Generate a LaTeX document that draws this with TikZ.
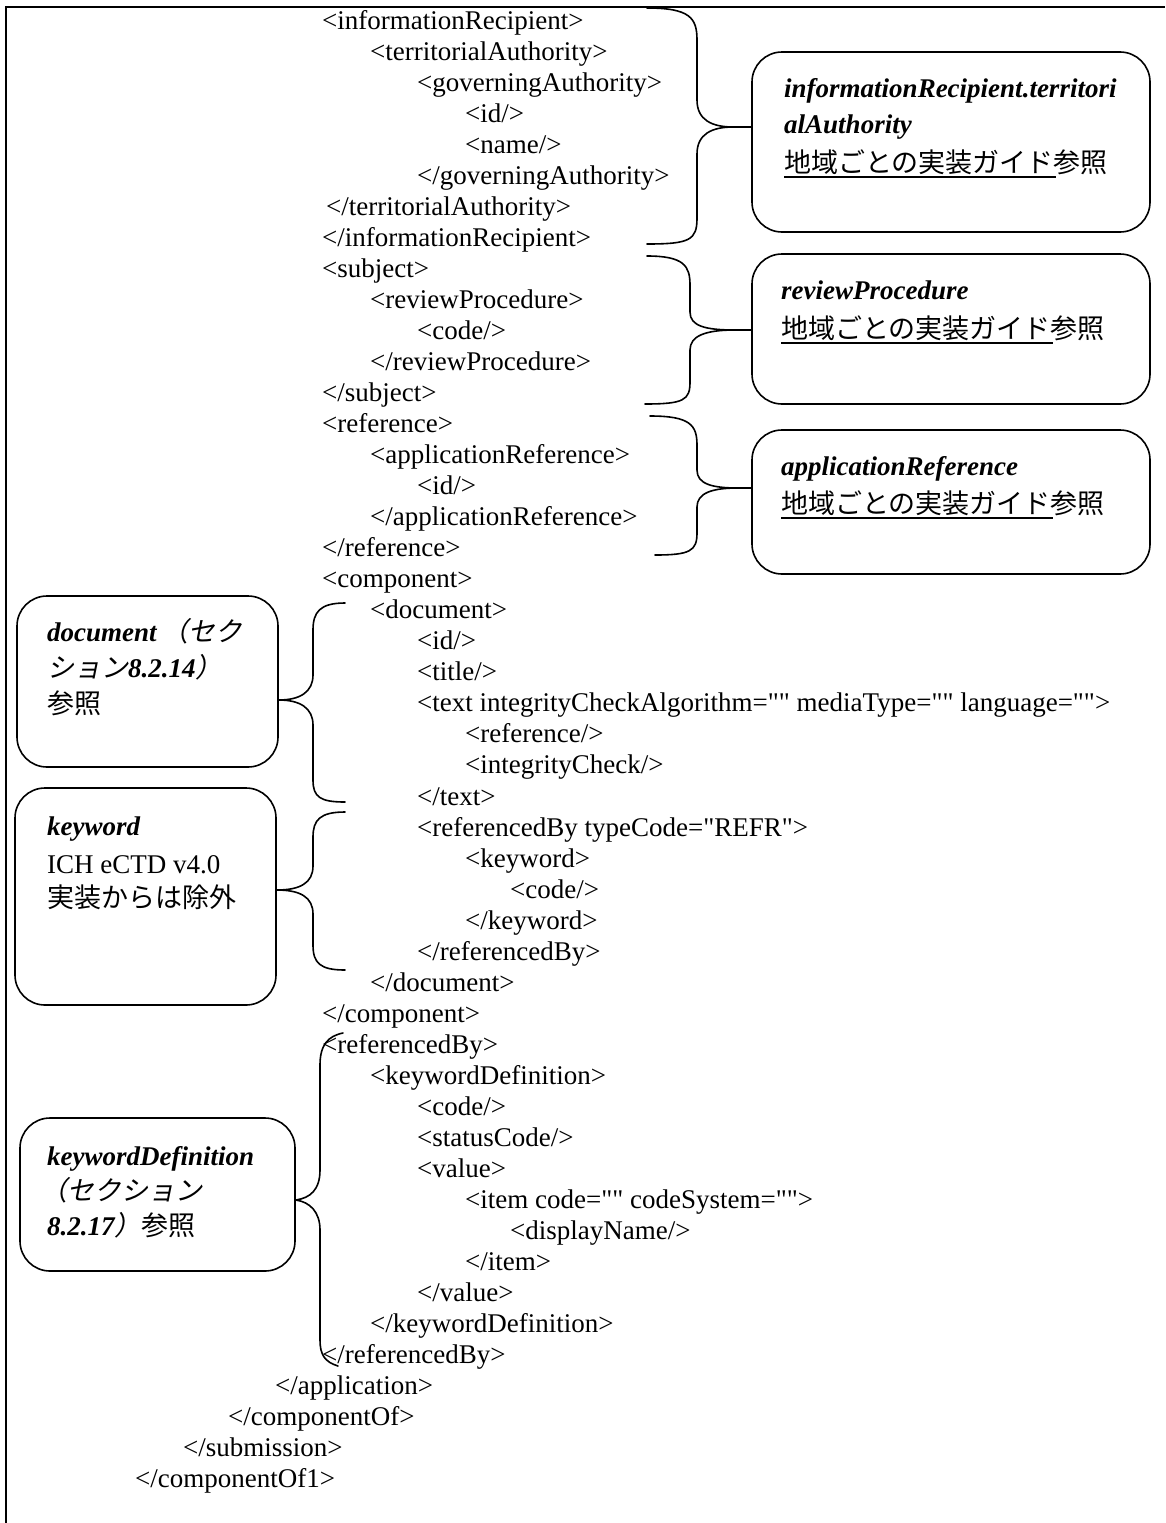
\documentclass[tikz,border=0pt]{standalone}
\usepackage{fontspec}
\setmainfont{Liberation Serif}
\newfontfamily\jp{Noto Sans CJK JP}
\newfontfamily\jpit[FakeSlant=0.2]{Noto Sans CJK JP}
\newcommand\dq{\XeTeXglyph\XeTeXcharglyph"22\relax}
\newcommand\xmlline[4]{\node[code] (#1) at (#2,{29+31.04*(#3-1)}) {#4};}
\begin{document}
\begin{tikzpicture}[x=1pt,y=-1pt,
  code/.style={anchor=base west, inner sep=0pt, font=\fontsize{27}{31}\selectfont},
  lbl/.style={anchor=base west, inner sep=0pt, font=\fontsize{27}{31}\selectfont},
  box/.style={draw, line width=1.6pt, rounded corners=30pt, inner sep=0pt},
  brace/.style={draw, line width=1.6pt, line cap=round},
  uline/.style={line width=1.4pt},
  frame/.style={line width=2.2pt}]
\useasboundingbox (0,0) rectangle (1165,1523);
% frame
\draw[frame] (6,1523) -- (6,7) -- (1165,7);

% XML lines
\xmlline{l1}{322}{1}{<informationRecipient>}
\xmlline{l2}{370}{2}{<territorialAuthority>}
\xmlline{l3}{417}{3}{<governingAuthority>}
\xmlline{l4}{465}{4}{<id/>}
\xmlline{l5}{465}{5}{<name/>}
\xmlline{l6}{417}{6}{</governingAuthority>}
\xmlline{l7}{326}{7}{</territorialAuthority>}
\xmlline{l8}{322}{8}{</informationRecipient>}
\xmlline{l9}{322}{9}{<subject>}
\xmlline{l10}{370}{10}{<reviewProcedure>}
\xmlline{l11}{417}{11}{<code/>}
\xmlline{l12}{370}{12}{</reviewProcedure>}
\xmlline{l13}{322}{13}{</subject>}
\xmlline{l14}{322}{14}{<reference>}
\xmlline{l15}{370}{15}{<applicationReference>}
\xmlline{l16}{417}{16}{<id/>}
\xmlline{l17}{370}{17}{</applicationReference>}
\xmlline{l18}{322}{18}{</reference>}
\xmlline{l19}{322}{19}{<component>}
\xmlline{l20}{370}{20}{<document>}
\xmlline{l21}{417}{21}{<id/>}
\xmlline{l22}{417}{22}{<title/>}
\xmlline{l23}{417}{23}{<text integrityCheckAlgorithm=\dq\dq{} mediaType=\dq\dq{} language=\dq\dq>}
\xmlline{l24}{465}{24}{<reference/>}
\xmlline{l25}{465}{25}{<integrityCheck/>}
\xmlline{l26}{417}{26}{</text>}
\xmlline{l27}{417}{27}{<referencedBy typeCode=\dq REFR\dq>}
\xmlline{l28}{465}{28}{<keyword>}
\xmlline{l29}{510}{29}{<code/>}
\xmlline{l30}{465}{30}{</keyword>}
\xmlline{l31}{417}{31}{</referencedBy>}
\xmlline{l32}{370}{32}{</document>}
\xmlline{l33}{322}{33}{</component>}
\xmlline{l34}{322}{34}{<referencedBy>}
\xmlline{l35}{370}{35}{<keywordDefinition>}
\xmlline{l36}{417}{36}{<code/>}
\xmlline{l37}{417}{37}{<statusCode/>}
\xmlline{l38}{417}{38}{<value>}
\xmlline{l39}{465}{39}{<item code=\dq\dq{} codeSystem=\dq\dq>}
\xmlline{l40}{510}{40}{<displayName/>}
\xmlline{l41}{465}{41}{</item>}
\xmlline{l42}{417}{42}{</value>}
\xmlline{l43}{370}{43}{</keywordDefinition>}
\xmlline{l44}{322}{44}{</referencedBy>}
\xmlline{l45}{275}{45}{</application>}
\xmlline{l46}{228}{46}{</componentOf>}
\xmlline{l47}{183}{47}{</submission>}
\xmlline{l48}{135}{48}{</componentOf1>}

% boxes
\node[box, minimum width=398pt, minimum height=180pt] (box1) at (951,142) {};
\node[box, minimum width=398pt, minimum height=150pt] (box2) at (951,329) {};
\node[box, minimum width=398pt, minimum height=144pt] (box3) at (951,502) {};
\node[box, minimum width=261pt, minimum height=171pt] (box4) at (147.5,681.5) {};
\node[box, minimum width=261pt, minimum height=217pt] (box5) at (145.5,896.5) {};
\node[box, minimum width=275pt, minimum height=153pt] (box6) at (157.5,1194.5) {};

% box texts
\node[lbl] (t1a) at (784,97) {\bfseries\itshape informationRecipient.territori};
\node[lbl] (t1b) at (784,133) {\bfseries\itshape alAuthority};
\node[lbl] (t1c) at (784,172) {\jp 地域ごとの実装ガイド参照};
\draw[uline] ([yshift=-5pt]t1c.base west) -- ++(272,0);

\node[lbl] (t2a) at (781,299) {\bfseries\itshape reviewProcedure};
\node[lbl] (t2b) at (781,338) {\jp 地域ごとの実装ガイド参照};
\draw[uline] ([yshift=-5pt]t2b.base west) -- ++(272,0);

\node[lbl] (t3a) at (781,475) {\bfseries\itshape applicationReference};
\node[lbl] (t3b) at (781,513) {\jp 地域ごとの実装ガイド参照};
\draw[uline] ([yshift=-5pt]t3b.base west) -- ++(272,0);

\node[lbl] (t4a) at (47,641) {{\bfseries\itshape document}\,{\jpit （セク}};
\node[lbl] (t4b) at (47,677) {{\jpit ション}{\bfseries\itshape 8.2.14}{\jpit ）}};
\node[lbl] (t4c) at (47,713) {\jp 参照};

\node[lbl] (t5a) at (47,835) {\bfseries\itshape keyword};
\node[lbl] (t5b) at (47,873) {ICH eCTD v4.0};
\node[lbl] (t5c) at (47,907) {\jp 実装からは除外};

\node[lbl] (t6a) at (47,1165) {\bfseries\itshape keywordDefinition};
\node[lbl] (t6b) at (40,1200) {\jpit （セクション};
\node[lbl] (t6c) at (47,1235) {{\bfseries\itshape 8.2.17}{\jpit ）}{\jp 参照}};

% brace coordinates
\coordinate (b1t) at (647,8);   \coordinate (b1tip) at (733,127); \coordinate (b1b) at (647,244);
\coordinate (b2t) at (647,256); \coordinate (b2tip) at (735,330); \coordinate (b2b) at (645,404);
\coordinate (b3t) at (650,416); \coordinate (b3tip) at (738,488); \coordinate (b3b) at (655,555);
\coordinate (b4t) at (345,603); \coordinate (b4tip) at (box4.east |- 0,700); \coordinate (b4b) at (345,802);
\coordinate (b5t) at (345,812); \coordinate (b5tip) at (box5.east |- 0,890); \coordinate (b5b) at (345,970);
\coordinate (b6t) at (343,1033); \coordinate (b6tip) at (box6.east |- 0,1200); \coordinate (b6b) at (338,1366);

% right braces
\draw[brace] (b1t) .. controls (690,8) and (697,18) .. (697,40) -- (697,100)
  .. controls (697,120) and (712,127) .. (b1tip) -- (box1.west |- b1tip);
\draw[brace] (b1tip) .. controls (712,127) and (697,134) .. (697,154) -- (697,218)
  .. controls (697,240) and (690,244) .. (b1b);

\draw[brace] (b2t) .. controls (684,256) and (690,266) .. (690,285) -- (690,312)
  .. controls (690,326) and (705,330) .. (b2tip) -- (box2.west |- b2tip);
\draw[brace] (b2tip) .. controls (705,330) and (690,336) .. (690,350) -- (690,382)
  .. controls (690,400) and (684,404) .. (b2b);

\draw[brace] (b3t) .. controls (690,416) and (697,425) .. (697,445) -- (697,470)
  .. controls (697,484) and (712,488) .. (b3tip) -- (box3.west |- b3tip);
\draw[brace] (b3tip) .. controls (712,488) and (697,493) .. (697,507) -- (697,533)
  .. controls (697,551) and (690,555) .. (b3b);

% left braces
\draw[brace] (b4t) .. controls (320,603) and (313,612) .. (313,630) -- (313,675)
  .. controls (313,692) and (300,700) .. (b4tip);
\draw[brace] (b4tip) .. controls (300,700) and (313,708) .. (313,725) -- (313,780)
  .. controls (313,797) and (320,802) .. (b4b);

\draw[brace] (b5t) .. controls (320,812) and (313,820) .. (313,837) -- (313,866)
  .. controls (313,883) and (300,890) .. (b5tip);
\draw[brace] (b5tip) .. controls (300,890) and (313,897) .. (313,914) -- (313,945)
  .. controls (313,963) and (320,970) .. (b5b);

\draw[brace] (b6t) .. controls (328,1036) and (320,1045) .. (320,1065) -- (320,1170)
  .. controls (320,1190) and (310,1198) .. (b6tip);
\draw[brace] (b6tip) .. controls (310,1202) and (320,1212) .. (320,1230) -- (320,1340)
  .. controls (320,1355) and (325,1362) .. (b6b);
\end{tikzpicture}
\end{document}
